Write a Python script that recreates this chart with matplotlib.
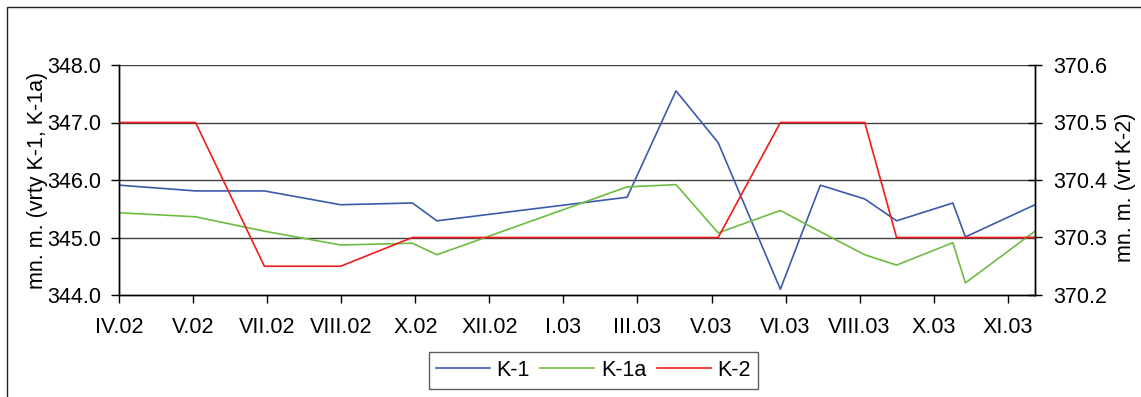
import matplotlib
matplotlib.use("Agg")
import matplotlib.pyplot as plt
from matplotlib.patches import Rectangle

plt.rcParams['font.family'] = ['Liberation Sans', 'DejaVu Sans']

# tick labels (one per major tick, equally spaced)
tick_labels = ["IV.02", "V.02", "VII.02", "VIII.02", "X.02", "XII.02", "I.03",
               "III.03", "V.03", "VI.03", "VIII.03", "X.03", "XI.03"]

# measurement positions in major-tick units
x_k1 = [0.0, 1.03, 1.96, 2.99, 3.96, 4.29, 6.86, 7.52, 8.09, 8.93, 9.47,
        10.07, 10.50, 11.26, 11.43, 12.37]
k1 = [345.91, 345.81, 345.81, 345.57, 345.60, 345.29, 345.70, 347.55, 346.65,
      344.10, 345.91, 345.67, 345.29, 345.60, 345.01, 345.57]

x_k1a = [0.0, 1.03, 1.96, 2.99, 3.96, 4.29, 6.86, 7.52, 8.09, 8.93, 9.47,
         10.07, 10.50, 11.26, 11.43, 12.37]
k1a = [345.43, 345.36, 345.11, 344.87, 344.90, 344.70, 345.88, 345.92, 345.08,
       345.47, 345.10, 344.70, 344.52, 344.91, 344.21, 345.11]

x_k2 = [0.0, 1.03, 1.96, 2.99, 3.96, 8.09, 8.93, 10.07, 10.50, 12.37]
k2 = [370.50, 370.50, 370.25, 370.25, 370.30, 370.30, 370.50, 370.50, 370.30, 370.30]

FS = 15.5
W, H = 1141, 397
fig = plt.figure(figsize=(W / 100, H / 100), dpi=100)

# outer chart border
fig.patches.append(Rectangle((7 / W, -0.2), 1.5, 1.2 - 7 / H,
                             transform=fig.transFigure, fill=False,
                             edgecolor='#222222', linewidth=1.0))

left, right = 119.3 / W, 1035 / W
bottom, top = 1 - 295 / H, 1 - 65 / H
pw = 1035 - 119.3
ax = fig.add_axes([left, bottom, right - left, top - bottom])
ax2 = ax.twinx()

c1, c1a, c2 = '#3a5aab', '#6bbd42', '#f01c1c'
l1, = ax.plot(x_k1, k1, color=c1, lw=1.2, label='K-1')
l1a, = ax.plot(x_k1a, k1a, color=c1a, lw=1.2, label='K-1a')
l2, = ax2.plot(x_k2, k2, color=c2, lw=1.2, label='K-2')

xmax = 12.37
ax.set_xlim(0, xmax)
ax.set_ylim(344, 348)
ax2.set_ylim(370.2, 370.6)
ax.set_yticks([344, 345, 346, 347, 348])
ax.set_yticklabels([f"{v:.1f}" for v in [344, 345, 346, 347, 348]])
ax2.set_yticks([370.2, 370.3, 370.4, 370.5, 370.6])
ax2.set_yticklabels([f"{v:.1f}" for v in [370.2, 370.3, 370.4, 370.5, 370.6]])
ax.set_xticks(range(len(tick_labels)))
ax.set_xticklabels(tick_labels)

for y in [345, 346, 347, 348]:
    ax.axhline(y, color='#404040', lw=1.0, zorder=0)

for a in (ax, ax2):
    a.spines['top'].set_visible(False)
    for s in a.spines.values():
        s.set_color('black')
        s.set_linewidth(1.0)

ax.tick_params(axis='y', direction='out', length=6, width=1, labelsize=FS, pad=7)
ax.tick_params(axis='x', direction='out', length=6, width=1, labelsize=FS, pad=10)
ax2.tick_params(axis='y', direction='inout', length=10, width=1, labelsize=FS, pad=8)

ax.set_ylabel("mn. m. (vrty K-1, K-1a)", fontsize=FS)
ax.yaxis.set_label_coords(-(119.3 - 48) / pw, 0.5)
ax2.set_ylabel("mn. m. (vrt K-2)", fontsize=FS, rotation=90)
ax2.yaxis.set_label_coords(1 + (1115 - 1035) / pw, 0.47)

leg = fig.legend(handles=[l1, l1a, l2], loc='center', ncol=3,
                 bbox_to_anchor=(593.3 / W, 1 - 370.5 / H), fontsize=FS,
                 frameon=True, fancybox=False, edgecolor='#333333',
                 handlelength=2.5, handletextpad=0.3, columnspacing=0.5,
                 borderpad=0.35, borderaxespad=0)
leg.get_frame().set_linewidth(1.0)

fig.savefig("out.png", dpi=100)
